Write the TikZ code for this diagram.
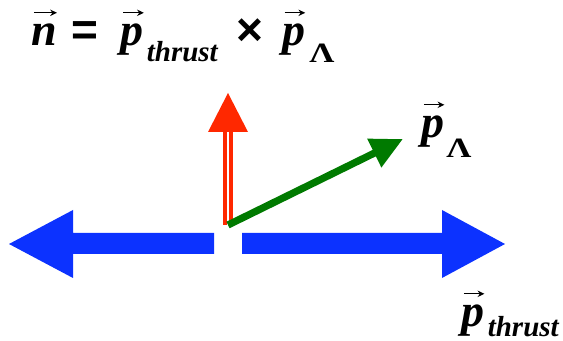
\documentclass[tikz,border=0pt]{standalone}
\usepackage{fontspec}
\usepackage{graphicx}
\setmainfont{Liberation Serif}
\newfontfamily\symsans{Liberation Sans}
\usetikzlibrary{arrows.meta}
\definecolor{thrustblue}{RGB}{12,50,255}
\definecolor{lamgreen}{RGB}{0,122,0}
\definecolor{normred}{RGB}{255,40,0}
\newcommand\bigf{\fontsize{23}{23}\selectfont}
\newlength\vecwd
% bold italic letter with a thin vector arrow above it
\newcommand\vecb[1]{\settowidth\vecwd{\bfseries\itshape #1}\hbox{\bfseries\itshape #1}\tikz[overlay,baseline=0pt]{\draw[black,line width=0.7pt,-{Stealth[length=3.4pt,width=3.2pt]}] (-\vecwd+1.2pt,16.6pt) -- (0pt,16.6pt);}}
\newcommand\subthrust[1]{\raisebox{-#1}{\fontsize{14.5}{14.5}\selectfont\bfseries\itshape thrust}}
\newcommand\sublam[1]{\raisebox{-#1}{\fontsize{14}{14}\selectfont\bfseries\scalebox{1.25}[1]{Λ}}}
\tikzset{
  lbl/.style={inner sep=0pt, anchor=base west, font=\bigf},
  bluearrow/.style={fill=thrustblue, draw=none},
}
\begin{document}
\begin{tikzpicture}[x=0.5pt, y=-0.5pt]
\useasboundingbox (0,0) rectangle (563,341);
% title
\node[lbl] (title) at (31,46) {\vecb{n}\hspace{7.2pt}{\symsans\bfseries =}\hspace{11.3pt}\vecb{p}\hspace{1.5pt}\subthrust{8pt}\hspace{9.5pt}{\symsans\bfseries ×}\hspace{9.3pt}\vecb{p}\hspace{2pt}\sublam{8.5pt}};
% thrust axis arrows
\fill[bluearrow] (214,233) -- (73,233) -- (73,210) -- (9,244) -- (73,278) -- (73,254) -- (214,254) -- cycle;
\fill[bluearrow] (242,233) -- (442,233) -- (442,210) -- (505,244) -- (442,278) -- (442,254) -- (242,254) -- cycle;
% origin
\coordinate (o) at (228,225);
\coordinate (nb) at (228,132);
\coordinate (nt) at (228,93);
\coordinate (lt) at (403,139);
% normal vector (double red)
\draw[normred, line width=1.75pt, double=white, double distance=1.25pt] (o) -- ([yshift=1pt]nb);
\fill[normred] (208,132) -- (248,132) -- (nt) -- cycle;
% Lambda momentum
\draw[lamgreen, line width=3.6pt, -{Triangle[length=16pt,width=15pt]}] (o) -- (lt);
% labels
\node[lbl] (plam) at (421,138) {\vecb{p}\hspace{1pt}\sublam{10pt}};
\node[lbl] (pthr) at (461,327) {\vecb{p}\hspace{1.7pt}\subthrust{5pt}};
\end{tikzpicture}
\end{document}
